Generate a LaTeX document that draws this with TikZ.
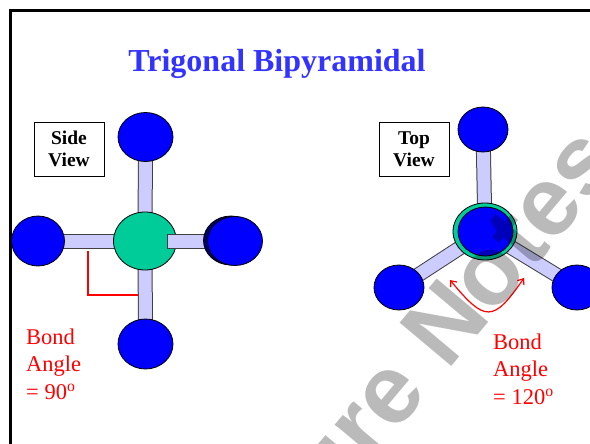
\documentclass[tikz,border=0pt]{standalone}
\usepackage{fontspec}
\setmainfont{Liberation Serif}
\newfontfamily\marksans{Liberation Sans}
\usetikzlibrary{shapes.geometric,arrows.meta}
\definecolor{atomblue}{HTML}{0000FF}
\definecolor{centregreen}{HTML}{00CC99}
\definecolor{bondfill}{HTML}{CCCCFF}
\definecolor{bondedge}{HTML}{404040}
\definecolor{darkatom}{HTML}{000066}
\definecolor{titleblue}{HTML}{3333FF}
\begin{document}
\begin{tikzpicture}[x=1pt,y=-1pt,>={Straight Barb[length=5pt,width=8pt]},
    atom/.style={ellipse,draw=black,line width=0.8pt,fill=atomblue,inner sep=0pt,
        minimum width=55pt,minimum height=49pt},
    smallatom/.style={atom,minimum width=50pt,minimum height=45pt},
    bond/.style={draw=bondedge,double=bondfill,double distance=13pt,line width=1pt,line cap=rect},
    viewbox/.style={draw,line width=0.6pt,align=center,inner sep=0pt,
        font=\fontsize{19.5}{22}\selectfont\bfseries,minimum width=70pt,minimum height=54pt},
    anglemark/.style={red,line width=1.2pt},
    angletext/.style={red,align=left,anchor=base west,inner sep=0pt,
        font=\fontsize{22.5}{27.5}\selectfont},
    wmark/.style={anchor=base,rotate=50,text=black,text opacity=0.27,
        font=\marksans\bfseries\fontsize{98}{98}\selectfont}]
    \useasboundingbox (0,0) rectangle (590,444);
    \draw[line width=2.5pt] (10.7,450) -- (10.7,10.7) -- (600,10.7);
    \node[text=titleblue,anchor=base,font=\fontsize{32}{38}\selectfont\bfseries] (title) at (277,72) {Trigonal Bipyramidal};

    % side view
    \coordinate (s0) at (145,241);
    \coordinate (s1) at (145.5,137);
    \coordinate (s2) at (38,241);
    \coordinate (s3) at (235,241);
    \coordinate (s4) at (145.5,344);
    \coordinate (sb) at (174.5,241);
    \draw[bond] (s0) -- (s1);
    \draw[bond] (s0) -- (s2);
    \draw[bond] (s0) -- (s4);
    \node[atom,fill=centregreen,minimum width=63pt,minimum height=58pt] (sc) at (s0) {};
    \draw[bond] (sb) -- (s3);
    \node[atom,fill=darkatom] (srb) at (231,240.5) {};
    \node[atom] (sr) at (s3) {};
    \node[atom] (st) at (s1) {};
    \node[atom,minimum width=53pt,minimum height=50pt] (sl) at (s2) {};
    \node[atom,minimum height=50pt] (sd) at (s4) {};
    \node[viewbox] (side) at (69,149) {Side\\View};
    \coordinate (a1) at (88,251);
    \coordinate (a2) at (138,295);
    \draw[anglemark] (a1) |- (a2);
    % base anchor sits on the last line
    \node[angletext] (ang90) at (26,399) {Bond\\Angle\\= 90\textsuperscript{o}};

    % top view
    \coordinate (t0) at (485,231.5);
    \coordinate (t1) at (483,129.5);
    \coordinate (t2) at (399,287.5);
    \coordinate (t3) at (577,287.5);
    \draw[bond] (t0) -- (t1);
    \draw[bond] (t0) -- (t2);
    \draw[bond] (t0) -- (t3);
    \node[atom,fill=centregreen,minimum width=64pt,minimum height=57pt] (tc) at (t0) {};
    \node[atom] (tcb) at (485.5,231.5) {};
    \node[smallatom] (tt) at (t1) {};
    \node[smallatom] (tl) at (t2) {};
    \node[smallatom] (tr) at (t3) {};
    \node[viewbox] (top) at (414,149.5) {Top\\View};
    \coordinate (b1) at (450,280);
    \coordinate (b2) at (524,278);
    \draw[anglemark,<->] (b1) .. controls (485,322) and (493,323) .. (b2);
    \node[angletext] (ang120) at (493,404) {Bond\\Angle\\= 120\textsuperscript{o}};

    \node[wmark] (wm) at (477,336) {ure Notes};
\end{tikzpicture}
\end{document}
